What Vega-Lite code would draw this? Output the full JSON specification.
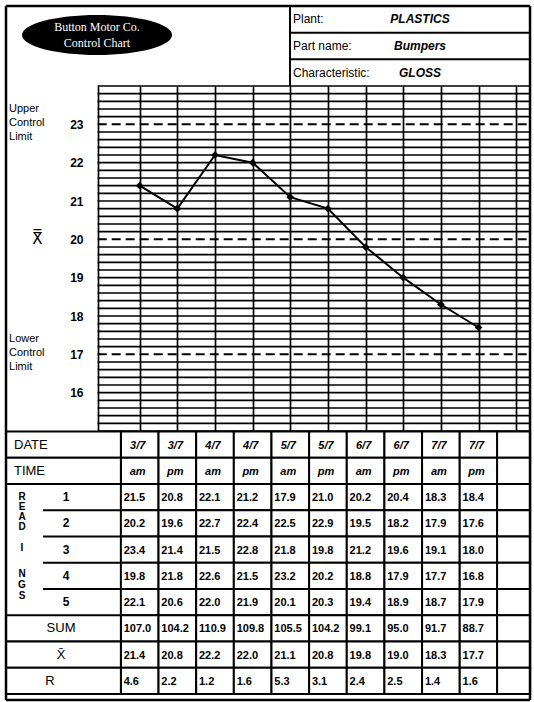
{
"$schema":"https://vega.github.io/schema/vega-lite/v6.json",
"padding":{"left":0,"top":4,"right":0,"bottom":0},
"spacing":0,
"bounds":"flush",
"config":{"view":{"stroke":null},"font":"Liberation Sans"},
"datasets":{
 "samples":[
  {"sample":1,"date":"3/7","time":"am","r1":21.5,"r2":20.2,"r3":23.4,"r4":19.8,"r5":22.1,"sum":107.0,"xbar":21.4,"range":4.6},
  {"sample":2,"date":"3/7","time":"pm","r1":20.8,"r2":19.6,"r3":21.4,"r4":21.8,"r5":20.6,"sum":104.2,"xbar":20.8,"range":2.2},
  {"sample":3,"date":"4/7","time":"am","r1":22.1,"r2":22.7,"r3":21.5,"r4":22.6,"r5":22.0,"sum":110.9,"xbar":22.2,"range":1.2},
  {"sample":4,"date":"4/7","time":"pm","r1":21.2,"r2":22.4,"r3":22.8,"r4":21.5,"r5":21.9,"sum":109.8,"xbar":22.0,"range":1.6},
  {"sample":5,"date":"5/7","time":"am","r1":17.9,"r2":22.5,"r3":21.8,"r4":23.2,"r5":20.1,"sum":105.5,"xbar":21.1,"range":5.3},
  {"sample":6,"date":"5/7","time":"pm","r1":21.0,"r2":22.9,"r3":19.8,"r4":20.2,"r5":20.3,"sum":104.2,"xbar":20.8,"range":3.1},
  {"sample":7,"date":"6/7","time":"am","r1":20.2,"r2":19.5,"r3":21.2,"r4":18.8,"r5":19.4,"sum":99.1,"xbar":19.8,"range":2.4},
  {"sample":8,"date":"6/7","time":"pm","r1":20.4,"r2":18.2,"r3":19.6,"r4":17.9,"r5":18.9,"sum":95.0,"xbar":19.0,"range":2.5},
  {"sample":9,"date":"7/7","time":"am","r1":18.3,"r2":17.9,"r3":19.1,"r4":17.7,"r5":18.7,"sum":91.7,"xbar":18.3,"range":1.4},
  {"sample":10,"date":"7/7","time":"pm","r1":18.4,"r2":17.6,"r3":18.0,"r4":16.8,"r5":17.9,"sum":88.7,"xbar":17.7,"range":1.6}
 ],
 "header":[
  {"field":"Plant:","value":"PLASTICS"},
  {"field":"Part name:","value":"Bumpers"},
  {"field":"Characteristic:","value":"GLOSS"}
 ],
 "rows":[
  {"key":"date","label":"DATE"},{"key":"time","label":"TIME"},
  {"key":"r1","label":"1"},{"key":"r2","label":"2"},{"key":"r3","label":"3"},{"key":"r4","label":"4"},{"key":"r5","label":"5"},
  {"key":"sum","label":"SUM"},{"key":"xbar","label":"X̄"},{"key":"range","label":"R"}
 ],
 "limits":[
  {"limit":"UCL","y":23,"label":["Upper","Control","Limit"]},
  {"limit":"CL","y":20,"label":"X̿"},
  {"limit":"LCL","y":17,"label":["Lower","Control","Limit"]}
 ],
 "gridlines":[
  {"y":15},{"y":15.2},{"y":15.4},{"y":15.6},{"y":15.8},{"y":16},{"y":16.2},{"y":16.4},{"y":16.6},{"y":16.8},
  {"y":17.2},{"y":17.4},{"y":17.6},{"y":17.8},{"y":18},{"y":18.2},{"y":18.4},{"y":18.6},{"y":18.8},{"y":19},
  {"y":19.2},{"y":19.4},{"y":19.6},{"y":19.8},{"y":20.2},{"y":20.4},{"y":20.6},{"y":20.8},{"y":21},{"y":21.2},
  {"y":21.4},{"y":21.6},{"y":21.8},{"y":22},{"y":22.2},{"y":22.4},{"y":22.6},{"y":22.8},{"y":23.2},{"y":23.4},
  {"y":23.6},{"y":23.8},{"y":24}
 ]
},
"vconcat":[
 {
  "width":534,"height":80,
  "layer":[
   {"data":{"values":[{}]},
    "mark":{"type":"rule","color":"black","strokeWidth":2.5},
    "encoding":{
     "x":{"datum":-2.551,"type":"quantitative","scale":{"domain":[-2.7105,11.4728],"nice":false,"zero":false},"axis":null},
     "x2":{"datum":11.367},
     "y":{"datum":"Plant:","type":"nominal","bandPosition":0,"scale":{"type":"band","domain":["Plant:","Part name:","Characteristic:"],"paddingInner":0,"paddingOuter":0},"axis":null}
    }},
   {"data":{"values":[{}]},
    "mark":{"type":"rule","color":"black","strokeWidth":2.5},
    "encoding":{"x":{"datum":-2.551,"type":"quantitative","scale":{"domain":[-2.7105,11.4728],"nice":false,"zero":false},"axis":null}}},
   {"data":{"values":[{}]},
    "mark":{"type":"rule","color":"black","strokeWidth":2.5},
    "encoding":{"x":{"datum":11.367,"type":"quantitative","scale":{"domain":[-2.7105,11.4728],"nice":false,"zero":false},"axis":null}}},
   {"data":{"values":[{}]},
    "mark":{"type":"rule","color":"black","strokeWidth":2},
    "encoding":{"x":{"datum":4.992,"type":"quantitative","scale":{"domain":[-2.7105,11.4728],"nice":false,"zero":false},"axis":null}}},
   {"data":{"name":"header"},
    "transform":[{"filter":{"field":"field","oneOf":["Part name:","Characteristic:"]}}],
    "mark":{"type":"rule","color":"black","strokeWidth":2},
    "encoding":{
     "x":{"datum":4.992,"type":"quantitative","scale":{"domain":[-2.7105,11.4728],"nice":false,"zero":false},"axis":null},
     "x2":{"datum":11.367},
     "y":{"field":"field","type":"nominal","bandPosition":0,"scale":{"type":"band","domain":["Plant:","Part name:","Characteristic:"],"paddingInner":0,"paddingOuter":0},"axis":null}
    }},
   {"data":{"values":[{}]},
    "mark":{"type":"point","filled":true,"color":"black","opacity":1,"size":22500,
      "shape":"M -1 0 C -1 -0.1475 -0.5523 -0.267 0 -0.267 C 0.5523 -0.267 1 -0.1475 1 0 C 1 0.1475 0.5523 0.267 0 0.267 C -0.5523 0.267 -1 0.1475 -1 0 Z"},
    "encoding":{
     "x":{"datum":-0.134,"type":"quantitative","scale":{"domain":[-2.7105,11.4728],"nice":false,"zero":false},"axis":null},
     "y":{"datum":"Part name:","type":"nominal","bandPosition":0.09,"scale":{"type":"band","domain":["Plant:","Part name:","Characteristic:"],"paddingInner":0,"paddingOuter":0},"axis":null}
    }},
   {"data":{"values":[{}]},
    "mark":{"type":"text","text":["Button Motor Co.","Control Chart"],"color":"white","font":"Liberation Serif","fontSize":12,"lineHeight":16,"align":"center","baseline":"middle","dy":-8},
    "encoding":{
     "x":{"datum":-0.134,"type":"quantitative","scale":{"domain":[-2.7105,11.4728],"nice":false,"zero":false},"axis":null},
     "y":{"datum":"Part name:","type":"nominal","bandPosition":0.09,"scale":{"type":"band","domain":["Plant:","Part name:","Characteristic:"],"paddingInner":0,"paddingOuter":0},"axis":null}
    }},
   {"data":{"name":"header"},
    "mark":{"type":"text","align":"left","baseline":"middle","dx":3,"fontSize":12,"color":"black"},
    "encoding":{
     "x":{"datum":4.992,"type":"quantitative","scale":{"domain":[-2.7105,11.4728],"nice":false,"zero":false},"axis":null},
     "y":{"field":"field","type":"nominal","scale":{"type":"band","domain":["Plant:","Part name:","Characteristic:"],"paddingInner":0,"paddingOuter":0},"axis":null},
     "text":{"field":"field","type":"nominal"}
    }},
   {"data":{"name":"header"},
    "mark":{"type":"text","align":"center","baseline":"middle","fontSize":12,"fontWeight":"bold","fontStyle":"italic","color":"black"},
    "encoding":{
     "x":{"datum":8.445,"type":"quantitative","scale":{"domain":[-2.7105,11.4728],"nice":false,"zero":false},"axis":null},
     "y":{"field":"field","type":"nominal","scale":{"type":"band","domain":["Plant:","Part name:","Characteristic:"],"paddingInner":0,"paddingOuter":0},"axis":null},
     "text":{"field":"value","type":"nominal"}
    }}
  ]
 },
 {
  "width":534,"height":345,
  "layer":[
   {"data":{"name":"gridlines"},
    "mark":{"type":"rule","color":"black","strokeWidth":1.7},
    "encoding":{
     "x":{"datum":-0.116,"type":"quantitative","scale":{"domain":[-2.7105,11.4728],"nice":false,"zero":false}},
     "x2":{"datum":11.367},
     "y":{"field":"y","type":"quantitative","scale":{"domain":[15,24],"nice":false,"zero":false}}
    }},
   {"data":{"name":"limits"},
    "mark":{"type":"rule","color":"black","strokeWidth":2,"strokeDash":[9,5]},
    "encoding":{
     "x":{"datum":-0.116,"type":"quantitative","scale":{"domain":[-2.7105,11.4728],"nice":false,"zero":false}},
     "x2":{"datum":11.367},
     "y":{"field":"y","type":"quantitative","scale":{"domain":[15,24],"nice":false,"zero":false}}
    }},
   {"data":{"name":"limits"},
    "transform":[{"filter":"datum.limit != 'CL'"}],
    "mark":{"type":"text","align":"left","baseline":"middle","fontSize":11,"lineHeight":14,"dy":-15,"color":"black"},
    "encoding":{
     "x":{"datum":-2.471,"type":"quantitative","scale":{"domain":[-2.7105,11.4728],"nice":false,"zero":false}},
     "y":{"field":"y","type":"quantitative","scale":{"domain":[15,24],"nice":false,"zero":false}},
     "text":{"field":"label","type":"nominal"}
    }},
   {"data":{"name":"limits"},
    "transform":[{"filter":"datum.limit == 'CL'"}],
    "mark":{"type":"text","align":"center","baseline":"middle","font":"DejaVu Sans","fontSize":15,"color":"black"},
    "encoding":{
     "x":{"datum":-1.715,"type":"quantitative","scale":{"domain":[-2.7105,11.4728],"nice":false,"zero":false}},
     "y":{"field":"y","type":"quantitative","scale":{"domain":[15,24],"nice":false,"zero":false}},
     "text":{"field":"label","type":"nominal"}
    }},
   {"data":{"name":"samples"},
    "mark":{"type":"line","color":"black","strokeWidth":2},
    "encoding":{
     "x":{"field":"sample","type":"quantitative","scale":{"domain":[-2.7105,11.4728],"nice":false,"zero":false},
       "axis":{"values":[-0.116,1,2,3,4,5,6,7,8,9,10,11],"grid":true,"gridColor":"black","gridWidth":1.7,"gridOpacity":1,"labels":false,"ticks":false,"domain":false,"title":null}},
     "y":{"field":"xbar","type":"quantitative","scale":{"domain":[15,24],"nice":false,"zero":false},
       "axis":{"values":[16,17,18,19,20,21,22,23],"format":"d","offset":-85,"grid":false,"domain":false,"ticks":false,"tickSize":0,"labelPadding":2,"labelFont":"Liberation Sans","labelFontWeight":"bold","labelFontSize":12,"labelColor":"black","title":null}}
    }},
   {"data":{"name":"samples"},
    "mark":{"type":"point","shape":"diamond","filled":true,"color":"black","opacity":1,"size":60},
    "encoding":{
     "x":{"field":"sample","type":"quantitative","scale":{"domain":[-2.7105,11.4728],"nice":false,"zero":false}},
     "y":{"field":"xbar","type":"quantitative","scale":{"domain":[15,24],"nice":false,"zero":false}}
    }},
   {"data":{"values":[{}]},
    "mark":{"type":"rule","color":"black","strokeWidth":2.5},
    "encoding":{"x":{"datum":-2.551,"type":"quantitative","scale":{"domain":[-2.7105,11.4728],"nice":false,"zero":false}}}},
   {"data":{"values":[{}]},
    "mark":{"type":"rule","color":"black","strokeWidth":2.5},
    "encoding":{"x":{"datum":11.367,"type":"quantitative","scale":{"domain":[-2.7105,11.4728],"nice":false,"zero":false}}}}
  ]
 },
 {
  "width":534,"height":269,
  "layer":[
   {"data":{"name":"samples"},
    "transform":[{"fold":["date","time","r1","r2","r3","r4","r5","sum","xbar","range"],"as":["key","value"]}],
    "mark":{"type":"rect","width":37.65,"fill":"white","stroke":"black","strokeWidth":2},
    "encoding":{
     "x":{"field":"sample","type":"quantitative","scale":{"domain":[-2.7105,11.4728],"nice":false,"zero":false},"axis":null},
     "y":{"field":"key","type":"nominal","scale":{"type":"band","domain":["date","time","r1","r2","r3","r4","r5","sum","xbar","range"],"range":[0.5,263],"paddingInner":0,"paddingOuter":0},"axis":null}
    }},
   {"data":{"name":"rows"},
    "mark":{"type":"rect","width":33,"xOffset":-2.6,"fill":"white","stroke":"black","strokeWidth":2},
    "encoding":{
     "x":{"datum":11,"type":"quantitative","scale":{"domain":[-2.7105,11.4728],"nice":false,"zero":false},"axis":null},
     "y":{"field":"key","type":"nominal","scale":{"type":"band","domain":["date","time","r1","r2","r3","r4","r5","sum","xbar","range"],"range":[0.5,263],"paddingInner":0,"paddingOuter":0},"axis":null}
    }},
   {"data":{"name":"rows"},
    "transform":[{"filter":{"field":"key","oneOf":["date","time","sum","xbar","range"]}}],
    "mark":{"type":"rect","fill":"white","stroke":"black","strokeWidth":2},
    "encoding":{
     "x":{"datum":-2.551,"type":"quantitative","scale":{"domain":[-2.7105,11.4728],"nice":false,"zero":false},"axis":null},
     "x2":{"datum":0.5},
     "y":{"field":"key","type":"nominal","scale":{"type":"band","domain":["date","time","r1","r2","r3","r4","r5","sum","xbar","range"],"range":[0.5,263],"paddingInner":0,"paddingOuter":0},"axis":null}
    }},
   {"data":{"name":"rows"},
    "transform":[{"filter":{"field":"key","oneOf":["r2","r3","r4","r5"]}}],
    "mark":{"type":"rule","color":"black","strokeWidth":2},
    "encoding":{
     "x":{"datum":-1.568,"type":"quantitative","scale":{"domain":[-2.7105,11.4728],"nice":false,"zero":false},"axis":null},
     "x2":{"datum":0.5},
     "y":{"field":"key","type":"nominal","bandPosition":0,"scale":{"type":"band","domain":["date","time","r1","r2","r3","r4","r5","sum","xbar","range"],"range":[0.5,263],"paddingInner":0,"paddingOuter":0},"axis":null}
    }},
   {"data":{"values":[{}]},
    "mark":{"type":"rule","color":"black","strokeWidth":2.5},
    "encoding":{"x":{"datum":-2.551,"type":"quantitative","scale":{"domain":[-2.7105,11.4728],"nice":false,"zero":false},"axis":null}}},
   {"data":{"values":[{}]},
    "mark":{"type":"rule","color":"black","strokeWidth":2.5},
    "encoding":{"x":{"datum":11.367,"type":"quantitative","scale":{"domain":[-2.7105,11.4728],"nice":false,"zero":false},"axis":null}}},
   {"data":{"values":[{}]},
    "mark":{"type":"rule","color":"black","strokeWidth":2.5},
    "encoding":{
     "x":{"datum":-2.551,"type":"quantitative","scale":{"domain":[-2.7105,11.4728],"nice":false,"zero":false},"axis":null},
     "x2":{"datum":11.367},
     "y":{"value":"height"}
    }},
   {"data":{"name":"samples"},
    "transform":[{"fold":["date","time"],"as":["key","value"]}],
    "mark":{"type":"text","align":"center","baseline":"middle","dx":-2,"dy":1,"fontSize":11,"fontWeight":"bold","fontStyle":"italic","color":"black"},
    "encoding":{
     "x":{"field":"sample","type":"quantitative","scale":{"domain":[-2.7105,11.4728],"nice":false,"zero":false},"axis":null},
     "y":{"field":"key","type":"nominal","scale":{"type":"band","domain":["date","time","r1","r2","r3","r4","r5","sum","xbar","range"],"range":[0.5,263],"paddingInner":0,"paddingOuter":0},"axis":null},
     "text":{"field":"value","type":"nominal"}
    }},
   {"data":{"name":"samples"},
    "transform":[{"fold":["r1","r2","r3","r4","r5","sum","xbar","range"],"as":["key","value"]}],
    "mark":{"type":"text","align":"left","baseline":"middle","dx":-16,"dy":1,"fontSize":11,"fontWeight":"bold","color":"black"},
    "encoding":{
     "x":{"field":"sample","type":"quantitative","scale":{"domain":[-2.7105,11.4728],"nice":false,"zero":false},"axis":null},
     "y":{"field":"key","type":"nominal","scale":{"type":"band","domain":["date","time","r1","r2","r3","r4","r5","sum","xbar","range"],"range":[0.5,263],"paddingInner":0,"paddingOuter":0},"axis":null},
     "text":{"field":"value","type":"quantitative","format":".1f"}
    }},
   {"data":{"name":"rows"},
    "transform":[{"filter":{"field":"key","oneOf":["date","time"]}}],
    "mark":{"type":"text","align":"left","baseline":"middle","fontSize":13,"color":"black"},
    "encoding":{
     "x":{"datum":-2.339,"type":"quantitative","scale":{"domain":[-2.7105,11.4728],"nice":false,"zero":false},"axis":null},
     "y":{"field":"key","type":"nominal","scale":{"type":"band","domain":["date","time","r1","r2","r3","r4","r5","sum","xbar","range"],"range":[0.5,263],"paddingInner":0,"paddingOuter":0},"axis":null},
     "text":{"field":"label","type":"nominal"}
    }},
   {"data":{"name":"rows"},
    "transform":[{"filter":{"field":"key","oneOf":["r1","r2","r3","r4","r5"]}}],
    "mark":{"type":"text","align":"center","baseline":"middle","fontSize":12,"fontWeight":"bold","color":"black"},
    "encoding":{
     "x":{"datum":-0.957,"type":"quantitative","scale":{"domain":[-2.7105,11.4728],"nice":false,"zero":false},"axis":null},
     "y":{"field":"key","type":"nominal","scale":{"type":"band","domain":["date","time","r1","r2","r3","r4","r5","sum","xbar","range"],"range":[0.5,263],"paddingInner":0,"paddingOuter":0},"axis":null},
     "text":{"field":"label","type":"nominal"}
    }},
   {"data":{"name":"rows"},
    "transform":[{"filter":{"field":"key","oneOf":["sum","xbar"]}}],
    "mark":{"type":"text","align":"center","baseline":"middle","fontSize":13,"color":"black"},
    "encoding":{
     "x":{"datum":-1.09,"type":"quantitative","scale":{"domain":[-2.7105,11.4728],"nice":false,"zero":false},"axis":null},
     "y":{"field":"key","type":"nominal","scale":{"type":"band","domain":["date","time","r1","r2","r3","r4","r5","sum","xbar","range"],"range":[0.5,263],"paddingInner":0,"paddingOuter":0},"axis":null},
     "text":{"field":"label","type":"nominal"}
    }},
   {"data":{"name":"rows"},
    "transform":[{"filter":{"field":"key","oneOf":["range"]}}],
    "mark":{"type":"text","align":"center","baseline":"middle","fontSize":13,"color":"black"},
    "encoding":{
     "x":{"datum":-1.382,"type":"quantitative","scale":{"domain":[-2.7105,11.4728],"nice":false,"zero":false},"axis":null},
     "y":{"field":"key","type":"nominal","scale":{"type":"band","domain":["date","time","r1","r2","r3","r4","r5","sum","xbar","range"],"range":[0.5,263],"paddingInner":0,"paddingOuter":0},"axis":null},
     "text":{"field":"label","type":"nominal"}
    }},
   {"data":{"values":[{}]},
    "mark":{"type":"text","text":["R","E","A","D"],"align":"center","baseline":"middle","lineHeight":10,"fontSize":10,"fontWeight":"bold","color":"black"},
    "encoding":{
     "x":{"datum":-2.126,"type":"quantitative","scale":{"domain":[-2.7105,11.4728],"nice":false,"zero":false},"axis":null},
     "y":{"datum":"r1","type":"nominal","bandPosition":0.5,"scale":{"type":"band","domain":["date","time","r1","r2","r3","r4","r5","sum","xbar","range"],"range":[0.5,263],"paddingInner":0,"paddingOuter":0},"axis":null}
    }},
   {"data":{"values":[{}]},
    "mark":{"type":"text","text":"I","align":"center","baseline":"middle","fontSize":10,"fontWeight":"bold","color":"black"},
    "encoding":{
     "x":{"datum":-2.126,"type":"quantitative","scale":{"domain":[-2.7105,11.4728],"nice":false,"zero":false},"axis":null},
     "y":{"datum":"r3","type":"nominal","bandPosition":0.42,"scale":{"type":"band","domain":["date","time","r1","r2","r3","r4","r5","sum","xbar","range"],"range":[0.5,263],"paddingInner":0,"paddingOuter":0},"axis":null}
    }},
   {"data":{"values":[{}]},
    "mark":{"type":"text","text":["N","G","S"],"align":"center","baseline":"middle","lineHeight":11,"fontSize":10,"fontWeight":"bold","color":"black"},
    "encoding":{
     "x":{"datum":-2.126,"type":"quantitative","scale":{"domain":[-2.7105,11.4728],"nice":false,"zero":false},"axis":null},
     "y":{"datum":"r4","type":"nominal","bandPosition":0.42,"scale":{"type":"band","domain":["date","time","r1","r2","r3","r4","r5","sum","xbar","range"],"range":[0.5,263],"paddingInner":0,"paddingOuter":0},"axis":null}
    }}
  ]
 }
]
}
